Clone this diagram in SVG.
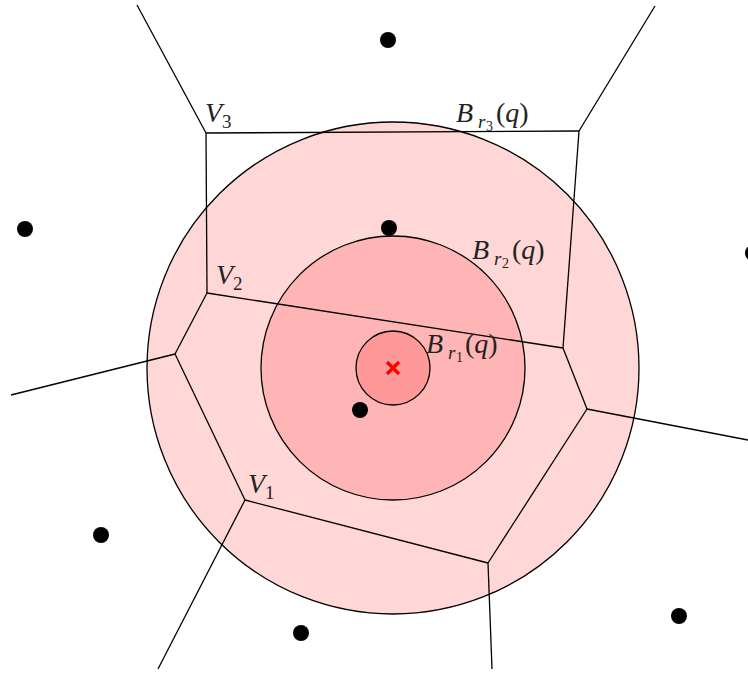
<svg xmlns="http://www.w3.org/2000/svg" width="748" height="673" viewBox="0 0 748 673">
<style>
.ball{fill:#ff0000;fill-opacity:0.155;stroke:#000;stroke-width:1.3}
.e{stroke:#000;stroke-width:1.3;fill:none}
.site{fill:#000}
.t{font-family:"Liberation Serif",serif;font-size:28px;fill:#222}
.i{font-style:italic}
.s{font-size:19px}
.ss{font-size:14px}
</style>
<rect width="748" height="673" fill="#fff"/>
<g id="balls">
<circle id="B3" class="ball" cx="393" cy="368" r="246"/>
<circle id="B2" class="ball" cx="393" cy="368" r="132"/>
<circle id="B1" class="ball" cx="393" cy="368" r="37"/>
</g>
<g id="edges">
<line class="e" x1="137" y1="5" x2="206" y2="133"/>
<line class="e" x1="206" y1="133" x2="579" y2="131"/>
<line class="e" x1="579" y1="131" x2="655" y2="6"/>
<line class="e" x1="579" y1="131" x2="563" y2="348"/>
<line class="e" x1="206" y1="133" x2="207" y2="293"/>
<line class="e" x1="207" y1="293" x2="563" y2="348"/>
<line class="e" x1="207" y1="293" x2="175" y2="354"/>
<line class="e" x1="175" y1="354" x2="11" y2="395"/>
<line class="e" x1="175" y1="354" x2="245" y2="500"/>
<line class="e" x1="245" y1="500" x2="158" y2="669"/>
<line class="e" x1="245" y1="500" x2="488" y2="563"/>
<line class="e" x1="488" y1="563" x2="492" y2="669"/>
<line class="e" x1="488" y1="563" x2="587" y2="409"/>
<line class="e" x1="587" y1="409" x2="748" y2="440"/>
<line class="e" x1="563" y1="348" x2="587" y2="409"/>
</g>
<g id="sites">
<circle class="site" cx="388" cy="40" r="8"/>
<circle class="site" cx="25" cy="229" r="8"/>
<circle class="site" cx="389" cy="228" r="8"/>
<circle class="site" cx="360" cy="410" r="8"/>
<circle class="site" cx="101" cy="535" r="8"/>
<circle class="site" cx="301" cy="633" r="8"/>
<circle class="site" cx="679" cy="616" r="8"/>
<circle class="site" cx="753" cy="253" r="8"/>
</g>
<g id="q">
<path d="M387 362 L399 374 M387 374 L399 362" stroke="#ff0000" stroke-width="3.2" fill="none"/>
</g>
<g id="labels">
<g id="V3"><text class="t i" x="205" y="122">V</text><text class="t s" x="222" y="128">3</text></g>
<g id="V2"><text class="t i" x="216" y="284">V</text><text class="t s" x="233" y="290">2</text></g>
<g id="V1"><text class="t i" x="248" y="493">V</text><text class="t s" x="265" y="499">1</text></g>
<g id="Br3"><text class="t i" x="456" y="122">B</text><text class="t s i" x="478" y="128">r</text><text class="t ss" x="486" y="131">3</text><text class="t" x="496" y="122">(<tspan class="i">q</tspan>)</text></g>
<g id="Br2"><text class="t i" x="472" y="259">B</text><text class="t s i" x="494" y="265">r</text><text class="t ss" x="502" y="268">2</text><text class="t" x="512" y="259">(<tspan class="i">q</tspan>)</text></g>
<g id="Br1"><text class="t i" x="426" y="353">B</text><text class="t s i" x="448" y="359">r</text><text class="t ss" x="456" y="362">1</text><text class="t" x="465" y="353">(<tspan class="i">q</tspan>)</text></g>
</g>
</svg>
